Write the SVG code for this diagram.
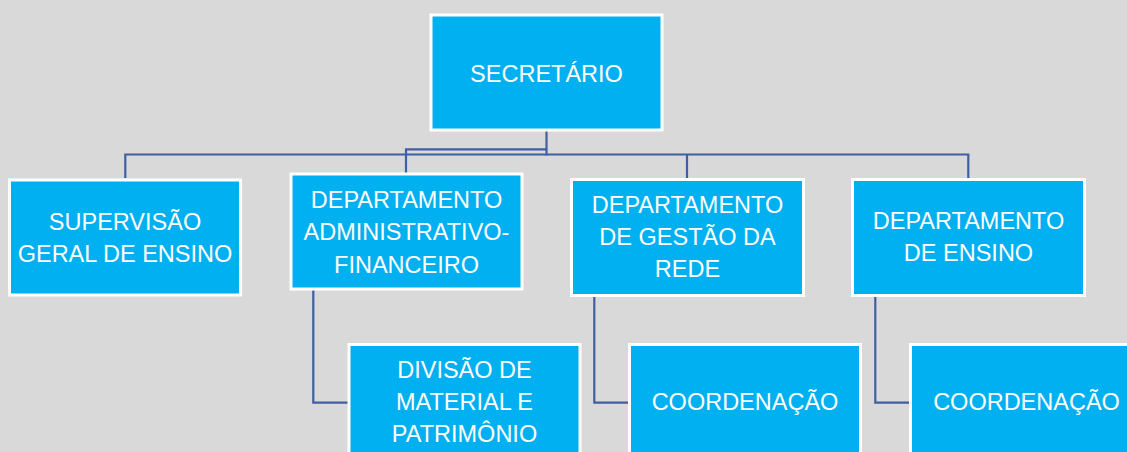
<svg xmlns="http://www.w3.org/2000/svg" width="1127" height="452" viewBox="0 0 1127 452">
<style>
.box{fill:#00B0F0;stroke:#FFFFFF;stroke-width:3}
.t{font-family:"Liberation Sans",Arial,sans-serif;font-size:23.5px;fill:#FFFFFF;text-anchor:middle}
.c{fill:none;stroke:#3F5FA3;stroke-width:2.2}
</style>
<rect width="1127" height="452" fill="#D9D9D9"/>
<g id="connectors">
<path class="c" d="M546.5,130 V155.5"/>
<path class="c" d="M125.3,178 V154.5 H968.3 V178"/>
<path class="c" d="M406,173 V149.3 H546.5"/>
<path class="c" d="M687,154.5 V178"/>
<path class="c" d="M313.3,290 V402.7 H348"/>
<path class="c" d="M594.3,297 V402.7 H629"/>
<path class="c" d="M875.3,297 V402.7 H910"/>
</g>
<g id="secretario">
<rect class="box" x="431" y="15" width="231" height="115"/>
<text class="t" x="546.5" y="81.5">SECRETÁRIO</text>
</g>
<g id="supervisao">
<rect class="box" x="9.5" y="180" width="231" height="115"/>
<text class="t" x="125" y="230">SUPERVISÃO</text>
<text class="t" x="125" y="262">GERAL DE ENSINO</text>
</g>
<g id="dep-admin">
<rect class="box" x="291" y="174" width="231" height="115"/>
<text class="t" x="406.5" y="208">DEPARTAMENTO</text>
<text class="t" x="406.5" y="240">ADMINISTRATIVO-</text>
<text class="t" x="406.5" y="272.5">FINANCEIRO</text>
</g>
<g id="divisao">
<rect class="box" x="349" y="344.5" width="231" height="115"/>
<text class="t" x="464.5" y="378">DIVISÃO DE</text>
<text class="t" x="464.5" y="410">MATERIAL E</text>
<text class="t" x="464.5" y="442">PATRIMÔNIO</text>
</g>
<g id="dep-gestao">
<rect class="box" x="571.5" y="179.5" width="232" height="116"/>
<text class="t" x="687.5" y="213">DEPARTAMENTO</text>
<text class="t" x="687.5" y="245">DE GESTÃO DA</text>
<text class="t" x="687.5" y="277">REDE</text>
</g>
<g id="dep-ensino">
<rect class="box" x="852.5" y="179.5" width="232" height="116"/>
<text class="t" x="968.5" y="229">DEPARTAMENTO</text>
<text class="t" x="968.5" y="261">DE ENSINO</text>
</g>
<g id="coord-gestao">
<rect class="box" x="629.5" y="344.5" width="231" height="115"/>
<text class="t" x="745" y="410">COORDENAÇÃO</text>
</g>
<g id="coord-ensino">
<rect class="box" x="910.5" y="344.5" width="231" height="115"/>
<text class="t" x="1026.5" y="410">COORDENAÇÃO</text>
</g>
</svg>
